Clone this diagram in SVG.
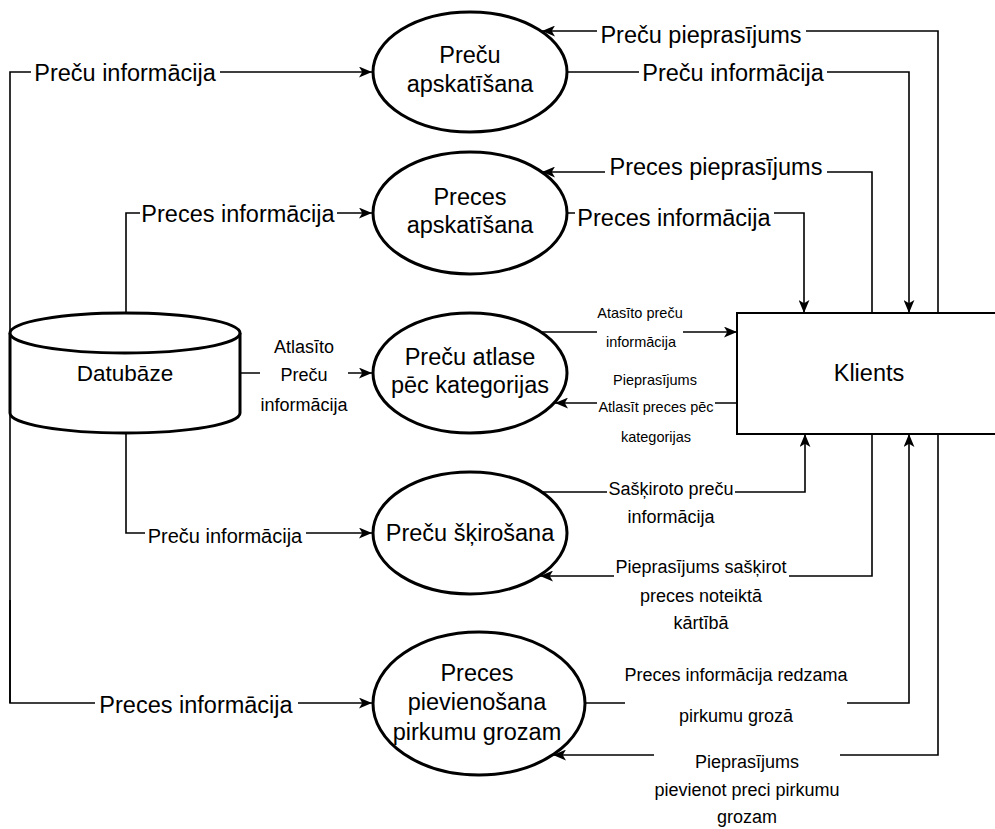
<svg xmlns="http://www.w3.org/2000/svg" width="995" height="829" viewBox="0 0 995 829">
<style>
text{font-family:"Liberation Sans",Arial,sans-serif;fill:#000;text-anchor:middle;dominant-baseline:central}
.big{font-size:23.5px}
.mid{font-size:18px}
.sm{font-size:14.5px}
.shape{fill:#fff;stroke:#000;stroke-width:3}
.box{fill:#fff;stroke:#000;stroke-width:2}
.conn{fill:none;stroke:#000;stroke-width:1.6;marker-end:url(#arr)}
.bg{fill:#fff;stroke:none}
</style>
<defs>
<marker id="arr" viewBox="0 0 12 10" refX="12" refY="5" markerWidth="13" markerHeight="11" markerUnits="userSpaceOnUse" orient="auto">
<path d="M0,0 L12,5 L0,10 L3,5 z" fill="#000"/>
</marker>
</defs>
<g id="connectors">
<path class="conn" d="M10,703 L10,72 L372,72"/>
<path class="conn" d="M126,313 L126,213 L372,213"/>
<path class="conn" d="M126,433 L126,533 L372,533"/>
<path class="conn" d="M10,600 L10,703 L372,703"/>
<path class="conn" d="M240,373 L372,373"/>
<path class="conn" d="M938,313 L938,31 L542,31"/>
<path class="conn" d="M566,72 L909,72 L909,313"/>
<path class="conn" d="M872,313 L872,172 L542,172"/>
<path class="conn" d="M566,213 L804,213 L804,313"/>
<path class="conn" d="M541,332 L737,332"/>
<path class="conn" d="M737,403 L555,403"/>
<path class="conn" d="M541,492 L805,492 L805,434"/>
<path class="conn" d="M872,434 L872,576 L540,576"/>
<path class="conn" d="M585,703 L909,703 L909,434"/>
<path class="conn" d="M938,434 L938,755 L553,755"/>
<g id="labels">
<rect class="bg" x="31" y="60" width="189" height="26"/><text class="big" x="125" y="73">Preču informācija</text>
<rect class="bg" x="140" y="201" width="197" height="26"/><text class="big" x="238" y="214">Preces informācija</text>
<rect class="bg" x="145" y="524" width="161" height="24"/><text x="225" y="536" style="font-size:20px">Preču informācija</text>
<rect class="bg" x="95" y="692" width="203" height="26"/><text class="big" x="196" y="705">Preces informācija</text>
<rect class="bg" x="597" y="22" width="209" height="26"/><text class="big" x="701" y="35">Preču pieprasījums</text>
<rect class="bg" x="639" y="60" width="188" height="26"/><text class="big" x="733" y="73">Preču informācija</text>
<rect class="bg" x="605" y="154" width="222" height="26"/><text class="big" x="716" y="167">Preces pieprasījums</text>
<rect class="bg" x="575" y="205" width="199" height="26"/><text class="big" x="674" y="218">Preces informācija</text>
<rect class="bg" x="260" y="334" width="88" height="84"/>
<text class="mid" x="304" y="347">Atlasīto</text><text class="mid" x="304" y="375">Preču</text><text class="mid" x="304" y="405">informācija</text>
<rect class="bg" x="607" y="478" width="128" height="52"/>
<text class="mid" x="671" y="489">Sašķiroto preču</text><text class="mid" x="671" y="517">informācija</text>
<rect class="bg" x="614" y="556" width="175" height="80"/>
<text class="mid" x="701" y="567">Pieprasījums sašķirot</text><text class="mid" x="701" y="596">preces noteiktā</text><text class="mid" x="701" y="623">kārtībā</text>
<rect class="bg" x="625" y="662" width="222" height="68"/>
<text class="mid" x="736" y="675">Preces informācija redzama</text><text class="mid" x="736" y="716">pirkumu grozā</text>
<rect class="bg" x="654" y="748" width="186" height="81"/>
<text class="mid" x="747" y="762">Pieprasījums</text><text class="mid" x="747" y="790">pievienot preci pirkumu</text><text class="mid" x="747" y="817">grozam</text>
<rect class="bg" x="597" y="303" width="86" height="49"/>
<text class="sm" x="640" y="313">Atasīto preču</text><text class="sm" x="641" y="342">informācija</text>
<rect class="bg" x="597" y="370" width="118" height="77"/>
<text class="sm" x="655" y="380">Pieprasījums</text><text class="sm" x="656" y="407">Atlasīt preces pēc</text><text class="sm" x="656" y="437">kategorijas</text>
</g>
</g>
<g id="datubaze">
<path class="shape" d="M10,333 L10,413 A115,20 0 0 0 240,413 L240,333"/>
<ellipse class="shape" cx="125" cy="333" rx="115" ry="20"/>
<text class="big" x="125" y="373" style="font-size:22.5px">Datubāze</text>
</g>
<g id="klients">
<rect class="box" x="737" y="313" width="270" height="121"/>
<text class="big" x="869" y="373">Klients</text>
</g>
<g id="preču-apskatisana">
<ellipse class="shape" cx="470" cy="72" rx="97" ry="60"/>
<text class="big" x="470" y="55">Preču</text><text class="big" x="470" y="84">apskatīšana</text>
</g>
<g id="preces-apskatisana">
<ellipse class="shape" cx="470" cy="213" rx="97" ry="61"/>
<text class="big" x="470" y="197">Preces</text><text class="big" x="470" y="225">apskatīšana</text>
</g>
<g id="preču-atlase">
<ellipse class="shape" cx="470" cy="373" rx="97" ry="60"/>
<text class="big" x="470" y="357">Preču atlase</text><text class="big" x="470" y="385">pēc kategorijas</text>
</g>
<g id="preču-skirosana">
<ellipse class="shape" cx="470" cy="533" rx="97" ry="61"/>
<text class="big" x="470" y="533">Preču šķirošana</text>
</g>
<g id="preces-pievienosana">
<ellipse class="shape" cx="479" cy="703.5" rx="106" ry="71.5"/>
<text class="big" x="477" y="673">Preces</text><text class="big" x="477" y="702">pievienošana</text><text class="big" x="477" y="732">pirkumu grozam</text>
</g>
</svg>
